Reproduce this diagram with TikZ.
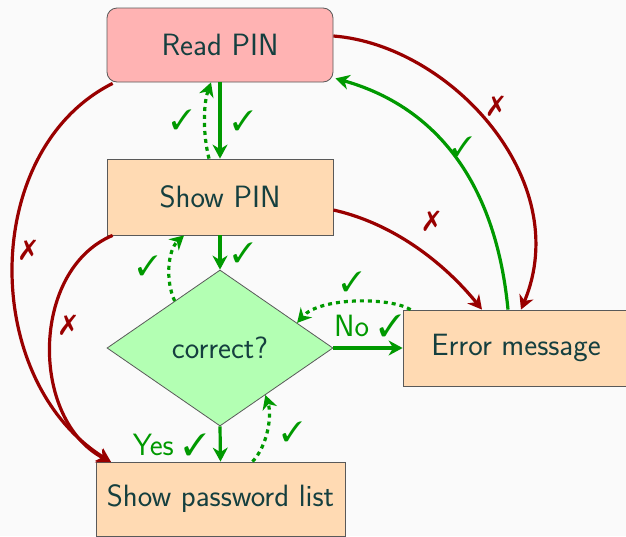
\documentclass[tikz,border=0pt]{standalone}
\usepackage{pifont}
\usetikzlibrary{arrows.meta,shapes.geometric,calc}
\definecolor{txt}{HTML}{153F3F}
\definecolor{ok}{HTML}{009900}
\definecolor{bad}{HTML}{990000}
\definecolor{bgc}{HTML}{FAFAFA}
\definecolor{rdfill}{HTML}{FFB3B3}
\definecolor{orfill}{HTML}{FFDAB3}
\definecolor{grfill}{HTML}{B3FFB3}
\tikzset{
  box/.style={draw=black!65, line width=0.8pt, text=txt, minimum width=226pt, minimum height=74pt, inner sep=0pt},
  tipp/.style={-{Stealth[length=14pt,width=15pt,inset=4.5pt]}},
  okline/.style={draw=ok, line width=3.2pt, tipp},
  okdot/.style={okline, dash pattern=on 4pt off 4pt},
  badline/.style={draw=bad, line width=3.2pt, tipp},
  ck/.style={text=ok, inner sep=0pt, font=\fontsize{28}{32}\selectfont},
  xk/.style={text=bad, inner sep=0pt, font=\fontsize{28}{32}\selectfont},
  lbl/.style={text=ok, inner sep=0pt},
}
\begin{document}
\begin{tikzpicture}[x=1pt,y=-1pt,font=\sffamily\fontsize{30.8}{36}\selectfont]
\fill[bgc] (0,0) rectangle (626,536);
\useasboundingbox (0,0) rectangle (626,536);

\node[box, fill=rdfill, rounded corners=10pt] (read) at (220,45) {Read PIN};
\node[box, fill=orfill, minimum height=76pt] (show) at (220,197) {Show PIN};
\node[diamond, draw=black!65, line width=0.8pt, fill=grfill, text=txt, minimum width=226pt, minimum height=156pt, aspect=1.45, inner sep=0pt] (dia) at (220,348) {correct?};
\node[box, fill=orfill, minimum height=76pt] (err) at (516,348) {Error message};
\node[box, fill=orfill, minimum width=249pt] (pw) at (220.5,499) {Show password list};

% green solid
\draw[okline] (read.south) -- node[ck, midway, xshift=23pt] {\ding{51}} (show.north);
\draw[okline] (show.south) -- node[ck, midway, xshift=23pt] {\ding{51}} (dia.north);
\draw[okline] (dia.east) -- node[lbl, midway, anchor=base, yshift=12pt] {No \ding{51}} (err.west);
\draw[okline] (dia.south) -- node[lbl, midway, anchor=base east, xshift=-12pt, yshift=-11pt] {Yes \ding{51}} (pw.north);
\draw[okline] ([xshift=-8pt]err.north) .. controls (495,175) and (430,105) .. node[ck, pos=0.5, xshift=10pt, yshift=7pt] {\ding{51}} ([xshift=2pt,yshift=4pt]read.south east);

% green dotted
\draw[okdot] ([xshift=-11pt]show.north) .. controls (203,135) and (203,105) .. node[ck, pos=0.5, xshift=-23pt] {\ding{51}} ([xshift=-9pt]read.south);
\coordinate (d1) at ($(dia.north)!0.4!(dia.west)$);
\draw[okdot] (d1) .. controls (165,280) and (168,250) .. node[ck, pos=0.5, xshift=-22pt] {\ding{51}} ([xshift=-36pt]show.south);
\coordinate (d2) at ($(dia.north)!0.68!(dia.east)$);
\draw[okdot] ([xshift=8pt]err.north west) .. controls (390,297) and (320,297) .. node[ck, pos=0.5, xshift=-3pt, yshift=20pt] {\ding{51}} (d2);
\coordinate (d3) at ($(dia.south)!0.4!(dia.east)$);
\draw[okdot] ([xshift=32pt]pw.north) .. controls (268,445) and (272,415) .. node[ck, pos=0.5, xshift=25pt, yshift=-2pt] {\ding{51}} (d3);

% red
\coordinate (pwin) at (111,462);
\draw[badline] ([xshift=6pt,yshift=-1pt]read.south west) .. controls (-20,150) and (-20,380) .. node[xk, pos=0.45, xshift=14pt, yshift=-6pt] {\ding{55}} (pwin);
\draw[badline] ([xshift=6pt]show.south west) .. controls (30,270) and (30,420) .. node[xk, pos=0.4, xshift=15pt, yshift=-7pt] {\ding{55}} (pwin);
\draw[badline] ([yshift=-13pt]show.east) .. controls (400,225) and (450,270) .. node[xk, pos=0.5, xshift=11pt, yshift=29pt] {\ding{55}} ([xshift=-34pt]err.north);
\draw[badline] ([yshift=9pt]read.east) .. controls (450,45) and (575,180) .. node[xk, pos=0.47, xshift=12pt, yshift=12pt] {\ding{55}} ([xshift=5pt]err.north);
\end{tikzpicture}
\end{document}
